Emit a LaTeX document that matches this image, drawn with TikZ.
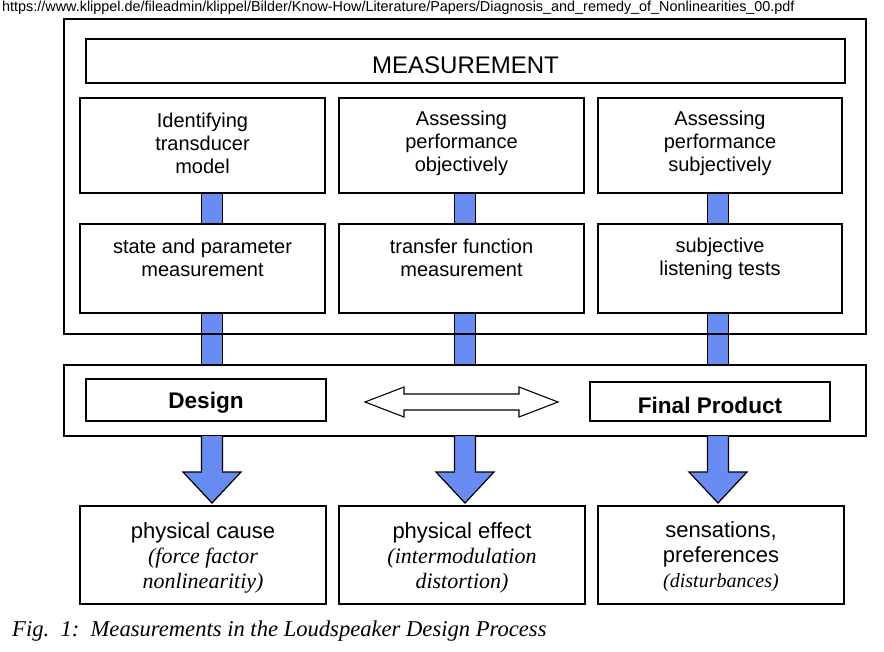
\documentclass[tikz,border=0pt]{standalone}
\usepackage{fontspec}
\setmainfont{Liberation Serif}
\setsansfont{Liberation Sans}
\definecolor{barblue}{RGB}{105,140,243}
\begin{document}
\begin{tikzpicture}[x=1pt,y=-1pt,
  box/.style={draw, line width=1.8pt, fill=white, inner sep=0pt},
  thinbox/.style={draw, line width=1.1pt, inner sep=0pt},
  bar/.style={draw, line width=0.9pt, fill=barblue},
  bigarrow/.style={draw, line width=1.2pt, fill=barblue, line join=miter},
  lbl/.style={font=\sffamily\fontsize{20}{23}\selectfont, align=center, inner sep=0pt},
  btxt/.style={font=\sffamily\fontsize{22}{25}\selectfont, align=center, inner sep=0pt},
  boldtxt/.style={font=\sffamily\bfseries\fontsize{22.6}{26}\selectfont, inner sep=0pt}]
\useasboundingbox (0,0) rectangle (884,652);

% URL
\node[anchor=west, inner sep=0pt, font=\sffamily\fontsize{14.4}{16}\selectfont] (url) at (2,8)
  {https://www.klippel.de/fileadmin/klippel/Bilder/Know-How/Literature/Papers/Diagnosis\_and\_remedy\_of\_Nonlinearities\_00.pdf};

% connector bars (drawn first)
\foreach \c in {212,465,718}{
  \draw[bar] (\c-10.5,193) rectangle (\c+10.5,224);
  \draw[bar] (\c-10.5,313) rectangle (\c+10.5,365);
}

% outer measurement frame
\node[draw, line width=1.9pt, minimum width=802pt, minimum height=315pt, inner sep=0pt] (outer) at (465,176.5) {};
\node[draw, line width=1.4pt, minimum width=759pt, minimum height=44pt, inner sep=0pt] (meas) at (465.5,61) {};
\node[inner sep=0pt, font=\sffamily\fontsize{24}{28}\selectfont] (meastxt) at (465.5,65) {MEASUREMENT};

% row 1
\node[box, minimum width=245pt, minimum height=95pt] (r1a) at (202.5,145.5) {};
\node[box, minimum width=245pt, minimum height=95pt] (r1b) at (461.5,145.5) {};
\node[box, minimum width=244pt, minimum height=95pt] (r1c) at (720,145.5) {};
\node[lbl] (t1a) at (202.5,143.5) {Identifying\\transducer\\model};
\node[lbl] (t1b) at (461.5,143.5) {Assessing\\performance\\objectively};
\node[lbl] (t1c) at (720,143.5) {Assessing\\performance\\subjectively};

% row 2
\node[box, minimum width=245pt, minimum height=89pt] (r2a) at (202.5,268.5) {};
\node[box, minimum width=245pt, minimum height=89pt] (r2b) at (461.5,268.5) {};
\node[box, minimum width=244pt, minimum height=89pt] (r2c) at (720,268.5) {};
\node[lbl] (t2a) at (202.5,257.5) {state and parameter\\measurement};
\node[lbl] (t2b) at (461.5,257.5) {transfer function\\measurement};
\node[lbl] (t2c) at (720,258.5) {subjective\\listening tests};

% middle band
\node[thinbox, minimum width=802pt, minimum height=71pt] (band) at (465,400.5) {};
\node[box, minimum width=240pt, minimum height=42pt] (design) at (206,400) {};
\node[boldtxt] (designtxt) at (206,403) {Design};
\node[box, minimum width=240pt, minimum height=39pt] (final) at (710,401.5) {};
\node[boldtxt] (finaltxt) at (710,405) {Final Product};

% double arrow between Design and Final Product
\coordinate (dl) at (365,402);
\coordinate (dr) at (558,402);
\draw[line width=1.1pt, fill=white, line join=miter]
  (dl) -- (404,387) -- (404,394) -- (519,394) -- (519,387) -- (dr)
  -- (519,417) -- (519,410) -- (404,410) -- (404,417) -- cycle;

% bottom boxes
\node[box, minimum width=246pt, minimum height=98pt] (b1) at (203,555) {};
\node[box, minimum width=246pt, minimum height=98pt] (b2) at (462,555) {};
\node[box, minimum width=246pt, minimum height=98pt] (b3) at (721,555) {};
\node[btxt] (tb1) at (203,558) {physical cause\\{\rmfamily\itshape (force factor}\\{\rmfamily\itshape nonlinearitiy)}};
\node[btxt] (tb2) at (462,558) {physical effect\\{\rmfamily\itshape (intermodulation}\\{\rmfamily\itshape distortion)}};
\node[btxt] (tb3) at (721,557) {sensations,\\preferences\\{\rmfamily\itshape\fontsize{20}{22}\selectfont (disturbances)}};

% big arrows from band to bottom boxes
\foreach \c in {212,465,718}{
  \draw[bigarrow] (\c-10.5,436) -- (\c-10.5,472) -- (\c-29,472) -- (\c,503)
     -- (\c+29,472) -- (\c+10.5,472) -- (\c+10.5,436);
}

% caption
\node[anchor=west, inner sep=0pt, font=\rmfamily\itshape\fontsize{22.6}{26}\selectfont] (cap) at (12,631)
  {Fig.~~1:~~Measurements in the Loudspeaker Design Process};
\end{tikzpicture}
\end{document}
